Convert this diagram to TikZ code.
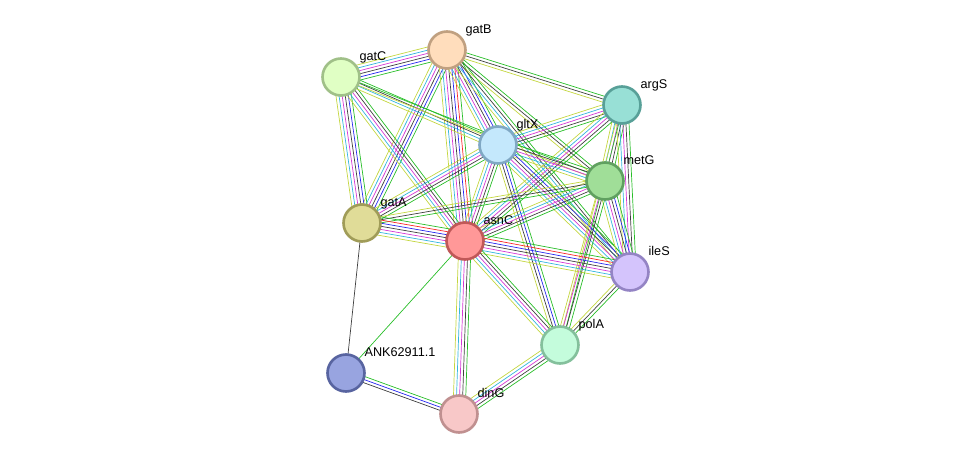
\documentclass[tikz,border=0pt]{standalone}
\usepackage{fontspec}
\setmainfont{Liberation Sans}
\usetikzlibrary{calc,backgrounds}

% evidence channels
\definecolor{tm}{RGB}{196,214,64}
\definecolor{db}{RGB}{52,182,222}
\definecolor{ex}{RGB}{214,56,214}
\definecolor{cx}{RGB}{64,64,64}
\definecolor{oc}{RGB}{40,40,240}
\definecolor{fu}{RGB}{250,40,40}
\definecolor{nb}{RGB}{40,190,40}
% protein colours (F = fill, D = border)
\definecolor{gatBF}{RGB}{255,221,188}\definecolor{gatBD}{RGB}{192,160,128}
\definecolor{gatCF}{RGB}{224,255,196}\definecolor{gatCD}{RGB}{160,192,136}
\definecolor{argSF}{RGB}{152,224,214}\definecolor{argSD}{RGB}{88,160,152}
\definecolor{gltXF}{RGB}{196,232,252}\definecolor{gltXD}{RGB}{128,168,196}
\definecolor{metGF}{RGB}{160,222,152}\definecolor{metGD}{RGB}{96,160,96}
\definecolor{gatAF}{RGB}{224,220,152}\definecolor{gatAD}{RGB}{160,156,88}
\definecolor{asnCF}{RGB}{255,152,152}\definecolor{asnCD}{RGB}{192,88,88}
\definecolor{ileSF}{RGB}{212,196,252}\definecolor{ileSD}{RGB}{148,132,196}
\definecolor{polAF}{RGB}{196,252,220}\definecolor{polAD}{RGB}{132,192,156}
\definecolor{ankF}{RGB}{152,164,224}\definecolor{ankD}{RGB}{88,100,160}
\definecolor{dinGF}{RGB}{248,200,200}\definecolor{dinGD}{RGB}{192,144,144}

\def\sep{1.75}
% parallel coloured lines between two nodes
\newcommand{\bundle}[3]{%
  \edef\lst{#3}%
  \foreach \c [count=\k] in \lst {\global\let\bundlen\k}%
  \foreach \c [count=\i] in \lst {%
    \pgfmathsetmacro\off{(\i-(\bundlen+1)/2)*\sep}%
    \draw[\c] ($(#1)!\off pt!90:(#2)$) -- ($(#2)!\off pt!-90:(#1)$);%
  }%
}

\begin{document}
\begin{tikzpicture}[x=0.02cm,y=-0.02cm,line width=0.85pt,
  prot/.style={circle,minimum size=0.74cm,inner sep=0pt,line width=1.5pt},
  lbl/.style={anchor=base west,inner sep=0.5pt,font=\fontsize{7.2}{8}\selectfont}]
\useasboundingbox (0,0) rectangle (975,460);
\foreach \p/\t/\x/\y in {gatB/gatB/447/50, gatC/gatC/341/77, argS/argS/622/105,
    gltX/gltX/498/145, metG/metG/605/181, gatA/gatA/362/223, asnC/asnC/465/241,
    ileS/ileS/630/272, polA/polA/560/345, ank/ANK62911.1/346/373, dinG/dinG/459/414}
{
  \node[prot,fill=\p F,draw=\p D] (\p) at (\x,\y) {};
  \node[lbl] (\p-t) at (\x+17,\y-17) {\t};
}
\begin{pgfonlayer}{background}
\foreach \a/\b/\cs in {
    gatB/gatC/{tm,db,ex,cx,oc,nb}, gatB/gatA/{tm,db,ex,cx,oc,nb},
    gatB/asnC/{tm,db,ex,cx,oc,fu,nb}, gatB/gltX/{tm,db,ex,cx,oc,nb},
    gatB/argS/{tm,cx,nb}, gatB/metG/{tm,cx,nb}, gatB/ileS/{tm,db,cx,nb},
    gatC/gatA/{tm,db,ex,cx,oc,nb}, gatC/asnC/{tm,db,ex,cx,nb},
    gatC/gltX/{tm,db,cx,nb}, gatC/metG/{tm,nb},
    argS/gltX/{tm,db,ex,cx,nb}, argS/metG/{tm,db,ex,cx,nb},
    argS/ileS/{tm,db,ex,cx,nb}, argS/asnC/{tm,db,ex,cx,nb}, argS/polA/{tm,nb},
    gltX/metG/{tm,db,ex,cx,nb}, gltX/asnC/{tm,db,ex,cx,nb},
    gltX/gatA/{tm,db,ex,cx,nb}, gltX/ileS/{tm,db,ex,cx,oc,nb},
    gltX/polA/{tm,cx,oc,nb},
    metG/asnC/{tm,db,ex,cx,nb}, metG/gatA/{tm,cx,nb},
    metG/ileS/{tm,db,ex,cx,oc,nb}, metG/polA/{tm,ex,cx,nb},
    gatA/asnC/{tm,db,ex,cx,oc,fu,nb}, asnC/ileS/{tm,db,ex,cx,oc,fu,nb},
    asnC/polA/{tm,db,ex,cx,nb}, asnC/dinG/{tm,db,ex,cx,nb}, asnC/ank/{nb},
    ileS/polA/{tm,cx,nb}, polA/dinG/{tm,db,ex,cx,nb},
    ank/dinG/{cx,oc,nb}, gatA/ank/{cx}}
  \bundle{\a}{\b}{\cs};
\end{pgfonlayer}
\end{tikzpicture}
\end{document}
